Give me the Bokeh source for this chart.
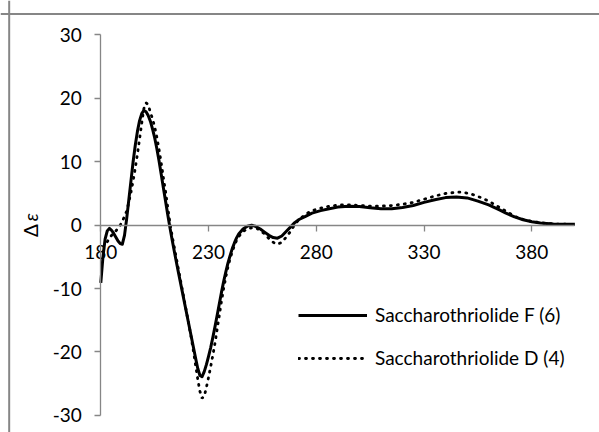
import math
from bokeh.plotting import figure
from bokeh.models import (Range1d, FixedTicker, Legend, LegendItem, Span, Label)
from bokeh.embed import file_html
from bokeh.resources import INLINE

# ---- data ----
wl_f = [180, 181, 182, 183, 184, 185, 186, 187, 188, 189, 190, 191, 192, 193, 194,
        195, 196, 197, 198, 199, 200, 201, 202, 203, 204, 205, 206, 207, 208, 209,
        210, 211, 212, 213, 214, 215, 216, 217, 218, 219, 220, 221, 222, 223, 224,
        225, 226, 227, 228, 229, 230, 231, 232, 233, 234, 235, 236, 237, 238, 239,
        240, 241, 242, 243, 244, 246, 248, 250, 252, 254, 256, 258, 260, 262, 264,
        266, 268, 270, 272, 275, 278, 282, 286, 290, 295, 300, 305, 310, 315, 320,
        325, 330, 335, 340, 345, 350, 355, 360, 365, 368, 372, 376, 380, 384, 390,
        395, 400]
de_f = [-9.1, -5.0, -2.2, -0.9, -0.5, -0.8, -1.3, -1.9, -2.5, -2.9, -3.0, -1.6, 1.0, 4.0, 7.0,
        10.0, 12.6, 14.8, 16.5, 17.6, 18.1, 17.9, 17.3, 16.4, 15.2, 13.8, 12.1, 10.2, 8.1, 6.0,
        3.9, 1.8, -0.2, -2.1, -3.9, -5.7, -7.4, -9.1, -10.8, -12.5, -14.2, -15.9, -17.6, -19.3, -21.0,
        -22.6, -23.7, -23.9, -23.1, -22.0, -20.7, -19.3, -17.7, -16.0, -14.2, -12.4, -10.6, -8.9, -7.4, -6.0,
        -4.8, -3.7, -2.8, -2.0, -1.4, -0.6, -0.15, 0.0, -0.2, -0.6, -1.1, -1.6, -1.95, -2.05, -1.7,
        -1.0, -0.3, 0.4, 0.9, 1.4, 1.9, 2.3, 2.6, 2.85, 3.0, 2.95, 2.75, 2.6, 2.6, 2.8,
        3.1, 3.6, 4.0, 4.35, 4.45, 4.3, 3.8, 3.2, 2.4, 1.9, 1.3, 0.85, 0.55, 0.35, 0.2,
        0.15, 0.15]

wl_d = [183, 184, 185, 186, 187, 188, 189, 190, 191, 192, 193, 194, 195, 196, 197,
        198, 199, 200, 201, 202, 203, 204, 205, 206, 207, 208, 209, 210, 211, 212,
        213, 214, 215, 216, 217, 218, 219, 220, 221, 222, 223, 224, 225, 226, 227,
        228, 229, 230, 231, 232, 233, 234, 235, 236, 237, 238, 239, 240, 241, 242,
        243, 244, 246, 248, 250, 252, 254, 256, 258, 260, 262, 264, 266, 268, 270,
        272, 275, 278, 282, 286, 291, 296, 300, 305, 310, 315, 320, 325, 330, 335,
        340, 345, 348, 352, 356, 360, 364, 368, 372, 376, 380, 385, 390, 395, 400]
de_d = [-2.6, -2.1, -1.6, -1.2, -0.9, -0.5, 0.0, 0.6, 1.4, 2.2, 3.6, 5.2, 7.0, 9.0, 11.2,
        13.6, 16.1, 18.4, 19.3, 19.0, 17.8, 16.8, 15.5, 13.9, 12.0, 9.9, 7.6, 5.4, 3.0, 0.6,
        -1.5, -3.3, -5.1, -6.9, -8.7, -10.5, -12.3, -14.1, -15.9, -17.8, -19.9, -22.1, -24.3, -26.2, -27.3,
        -27.0, -25.6, -24.0, -22.3, -20.5, -18.6, -16.4, -14.2, -12.0, -10.0, -8.2, -6.6, -5.3, -4.2, -3.2,
        -2.4, -1.8, -1.0, -0.6, -0.4, -0.45, -0.8, -1.4, -2.1, -2.7, -3.0, -2.7, -1.9, -1.0, 0.1,
        0.9, 1.7, 2.3, 2.7, 3.0, 3.2, 3.2, 3.1, 3.0, 3.0, 3.1, 3.3, 3.6, 4.1, 4.6,
        5.0, 5.2, 5.2, 4.9, 4.4, 3.8, 3.0, 2.2, 1.4, 0.9, 0.6, 0.35, 0.2, 0.15, 0.1]

name_f = "Saccharothriolide F (6)"
name_d = "Saccharothriolide D (4)"
x_ticks = [180, 230, 280, 330, 380]
y_ticks = [-30, -20, -10, 0, 10, 20, 30]

# ---- layout constants ----
FONT = "Lato"
FS = "19px"
GRAY = "#868686"
X0, X1 = 133.46, 411.42      # frame spans the whole canvas
Y0, Y1 = -32.70, 35.44
BORDER_Y = 33.31             # chart-area top edge
BORDER_X = 137.49            # chart-area left edge

p = figure(width=599, height=432, x_range=Range1d(X0, X1), y_range=Range1d(Y0, Y1),
           output_backend="svg", toolbar_location=None,
           min_border=0, min_border_top=0, min_border_left=0, min_border_right=0,
           min_border_bottom=0)
p.outline_line_color = None
p.grid.visible = False
p.background_fill_color = "white"
p.border_fill_color = "white"

r_f = p.line(wl_f, de_f, line_width=3, line_color="black", line_join="round")
r_d = p.line(wl_d, de_d, line_width=2.8, line_color="black", line_dash="1 6",
             line_cap="round")

# axes crossing at (180, 0)
for ax in (p.xaxis[0], p.yaxis[0]):
    ax.axis_line_color = GRAY
    ax.axis_line_width = 1.3
    ax.major_tick_line_color = GRAY
    ax.major_tick_line_width = 1.3
    ax.major_tick_in = 0
    ax.major_tick_out = 6
    ax.minor_tick_line_color = None
    ax.major_label_text_font = FONT
    ax.major_label_text_font_size = FS
    ax.major_label_text_color = "black"
    ax.axis_label = None

p.xaxis.fixed_location = 0
p.xaxis.bounds = (180, 400)
p.xaxis.ticker = FixedTicker(ticks=x_ticks)
p.xaxis.major_label_standoff = 14
p.xaxis.major_label_overrides = {t: str(t) for t in x_ticks}

p.yaxis.fixed_location = 180
p.yaxis.bounds = (-30, 30)
p.yaxis.ticker = FixedTicker(ticks=y_ticks)
p.yaxis.major_label_standoff = 13
p.yaxis.major_label_overrides = {t: str(t) for t in y_ticks}

# y-axis title  Δε
p.add_layout(Label(x=147.4, y=-0.84, text="Δ", angle=math.pi / 2, text_align="center",
                   text_baseline="middle", text_font=FONT, text_font_size="19px",
                   text_color="black"))
p.add_layout(Label(x=147.4, y=1.25, text="ε", angle=math.pi / 2, text_align="center",
                   text_baseline="middle", text_font=FONT, text_font_size="19px",
                   text_font_style="italic", text_color="black"))

# chart-area border (top and left edges only)
p.add_layout(Span(location=BORDER_Y, dimension="width", line_color=GRAY, line_width=2))
p.add_layout(Span(location=BORDER_X, dimension="height", line_color=GRAY, line_width=2))

legend = Legend(items=[LegendItem(label=name_f, renderers=[r_f]),
                       LegendItem(label=name_d, renderers=[r_d])],
                location=(298, 63), orientation="vertical")
legend.background_fill_alpha = 0
legend.border_line_color = None
legend.padding = 0
legend.margin = 0
legend.spacing = 20
legend.glyph_width = 69
legend.glyph_height = 20
legend.label_height = 20
legend.label_standoff = 8
legend.label_text_font = FONT
legend.label_text_font_size = FS
legend.label_text_color = "black"
p.add_layout(legend)

open("out.html", "w").write(file_html(p, INLINE))
